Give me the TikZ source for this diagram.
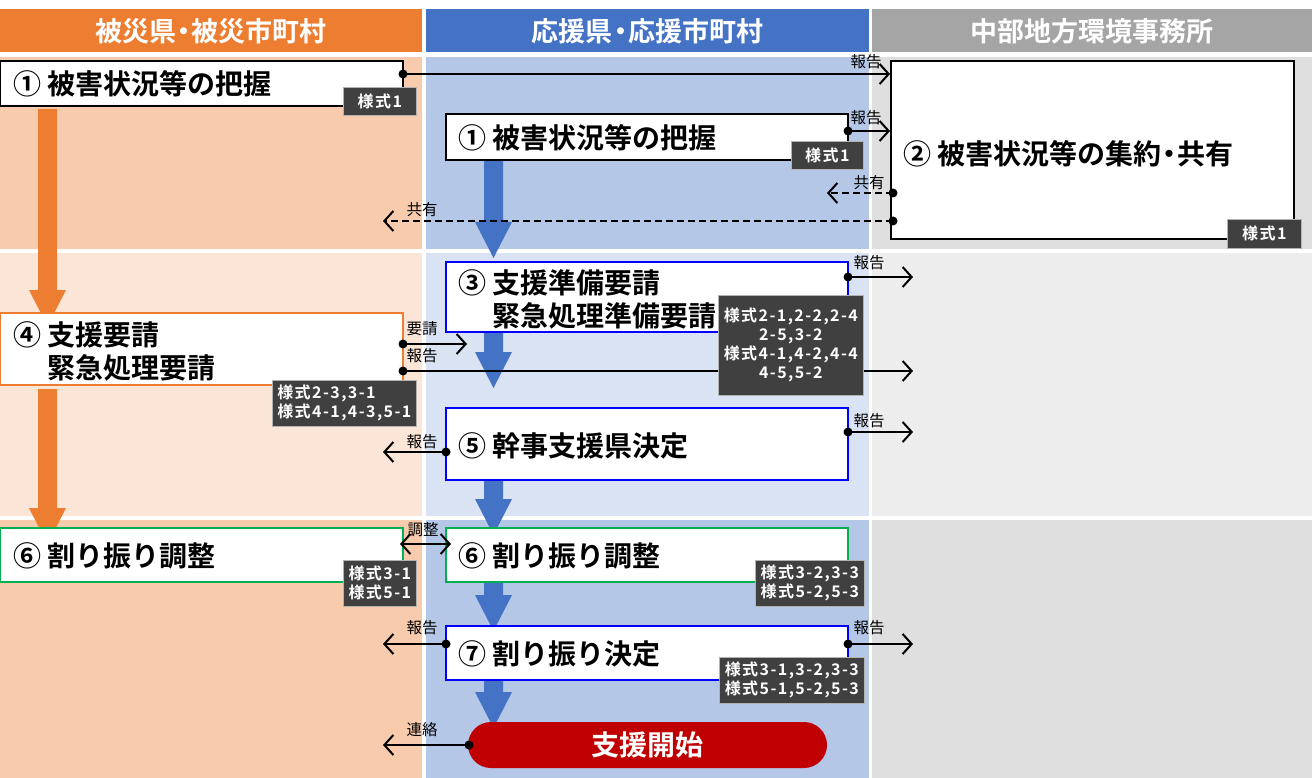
\documentclass[tikz,border=0pt]{standalone}
\usepackage{fontspec}
\newfontfamily\jp{Noto Sans CJK JP}[BoldFont={Noto Sans CJK JP Bold}]
\newfontfamily\jpt{Noto Sans CJK JP}[BoldFont={Noto Sans CJK JP Bold},LetterSpace=9]
\usetikzlibrary{arrows.meta}
\definecolor{hOr}{HTML}{ED7D31}
\definecolor{hBl}{HTML}{4472C4}
\definecolor{hGr}{HTML}{A5A5A5}
\definecolor{bgOr}{HTML}{F8CBAD}
\definecolor{bgOrL}{HTML}{FBE5D6}
\definecolor{bgBl}{HTML}{B4C7E7}
\definecolor{bgBlL}{HTML}{DAE3F3}
\definecolor{bgGr}{HTML}{DFDFDF}
\definecolor{bgGrL}{HTML}{EDEDED}
\definecolor{tagc}{HTML}{404040}
\definecolor{grn}{HTML}{00B050}
\definecolor{blu}{HTML}{0000FF}
\definecolor{redc}{HTML}{C00000}
\newcommand\blkarr[5]{\fill[#5] (#1-9.5,#2) -- (#1+9.5,#2) -- (#1+9.5,#3) -- (#1+18.5,#3) -- (#1,#4) -- (#1-18.5,#3) -- (#1-9.5,#3) -- cycle;}
\newcommand\nd{\kern-0.22em・\kern-0.22em}
\tikzset{
  box/.style={draw=black, line width=1.8pt, fill=white, anchor=north west, inner sep=0, outer sep=0},
  ttl/.style={font=\jp\bfseries\fontsize{28}{33}\selectfont, anchor=west, inner sep=0, align=left},
  hdr/.style={font=\jp\bfseries\fontsize{27}{30}\selectfont, text=white, inner sep=0, minimum height=43pt},
  tagbox/.style={fill=tagc, draw=gray!60, line width=0.6pt, text=white, font=\jpt\bfseries\fontsize{16}{19}\selectfont, anchor=north west, inner sep=0, align=center},
  lbl/.style={font=\jp\fontsize{15.5}{17}\selectfont, inner sep=0},
  conn/.style={line width=2pt, -{Straight Barb[length=9pt,width=20pt]}},
  dconn/.style={conn, dash pattern=on 7pt off 4pt},
  bconn/.style={line width=2pt, {Straight Barb[length=9pt,width=20pt]}-{Straight Barb[length=9pt,width=20pt]}},
}
\begin{document}
\begin{tikzpicture}[x=1pt,y=-1pt]
\useasboundingbox (0,0) rectangle (1312,778);
% backgrounds
\fill[bgOr] (0,57) rectangle (422,249);
\fill[bgBl] (426,57) rectangle (869,249);
\fill[bgGr] (872,57) rectangle (1312,249);
\fill[bgOrL] (0,253) rectangle (422,516);
\fill[bgBlL] (426,253) rectangle (869,516);
\fill[bgGrL] (872,253) rectangle (1312,516);
\fill[bgOr] (0,520) rectangle (422,778);
\fill[bgBl] (426,520) rectangle (869,778);
\fill[bgGr] (872,520) rectangle (1312,778);
% headers
\node[hdr, fill=hOr, minimum width=422pt] (h1) at (211,31) {被災県\nd 被災市町村};
\node[hdr, fill=hBl, minimum width=443pt] (h2) at (647.5,31) {応援県\nd 応援市町村};
\node[hdr, fill=hGr, minimum width=440pt] (h3) at (1092,31) {中部地方環境事務所};
% block arrows
\blkarr{47.5}{109}{290}{326}{hOr}
\blkarr{47.5}{389}{508}{544}{hOr}
\blkarr{493.5}{160}{222}{258}{hBl}
\blkarr{493.5}{333}{352}{388}{hBl}
\blkarr{493.5}{480}{499}{535}{hBl}
\blkarr{493.5}{582}{595}{631}{hBl}
\blkarr{493.5}{680}{692}{728}{hBl}
% boxes
\node[box, minimum width=403pt, minimum height=45pt] (b1) at (0,61) {};
\node[box, minimum width=402pt, minimum height=46pt] (m1) at (446,114) {};
\node[box, minimum width=403pt, minimum height=178pt] (bR) at (891,61) {};
\node[box, draw=blu, minimum width=402pt, minimum height=70pt] (b3) at (446,262) {};
\node[box, draw=hOr, minimum width=403pt, minimum height=72pt] (b4) at (0,313) {};
\node[box, draw=blu, minimum width=402pt, minimum height=72pt] (b5) at (446,408) {};
\node[box, draw=grn, minimum width=403pt, minimum height=54pt] (l6) at (0,528) {};
\node[box, draw=grn, minimum width=402pt, minimum height=54pt] (m6) at (446,528) {};
\node[box, draw=blu, minimum width=402pt, minimum height=54pt] (b7) at (446,626) {};
\node[fill=redc, rounded corners=23pt, minimum width=359pt, minimum height=46pt, anchor=north west, inner sep=0, outer sep=0, text=white, font=\jp\bfseries\fontsize{28}{30}\selectfont] (go) at (468,722) {支援開始};
% titles
\node[ttl] (t1) at (13,84) {① 被害状況等の把握};
\node[ttl] (tm1) at (458,138) {① 被害状況等の把握};
\node[ttl] (tR) at (903,154) {② 被害状況等の集約\nd 共有};
\node[ttl] (t3) at (458,299) {③ 支援準備要請\\\phantom{③ }緊急処理準備要請};
\node[ttl] (t4) at (13,351) {④ 支援要請\\\phantom{④ }緊急処理要請};
\node[ttl] (t5) at (458,446) {⑤ 幹事支援県決定};
\node[ttl] (tl6) at (13,556) {⑥ 割り振り調整};
\node[ttl] (tm6) at (458,556) {⑥ 割り振り調整};
\node[ttl] (t7) at (458,654) {⑦ 割り振り決定};
% connector points
\coordinate (p1) at (403,74);   \coordinate (e1) at (890,74);
\coordinate (p2) at (848,131);  \coordinate (e2) at (890,131);
\coordinate (p3) at (893,193);  \coordinate (e3) at (827,193);
\coordinate (p4) at (893,221);  \coordinate (e4) at (383,221);
\coordinate (p5) at (848,277);  \coordinate (e5) at (913,277);
\coordinate (p6) at (403,344);  \coordinate (e6) at (467,344);
\coordinate (p7) at (403,371);  \coordinate (e7) at (913,371);
\coordinate (p8) at (848,432);  \coordinate (e8) at (913,432);
\coordinate (p9) at (446,452);  \coordinate (e9) at (383,452);
\coordinate (pa) at (400,544);  \coordinate (ea) at (451,544);
\coordinate (pb) at (848,644);  \coordinate (eb) at (913,644);
\coordinate (pc) at (446,644);  \coordinate (ec) at (383,644);
\coordinate (pd) at (469,745);  \coordinate (ed) at (383,745);
% connectors
\draw[conn] (p1) -- (e1);
\draw[conn] (p2) -- (e2);
\draw[dconn] (p3) -- (e3);
\draw[dconn] (p4) -- (e4);
\draw[conn] (p5) -- (e5);
\draw[conn] (p6) -- (e6);
\draw[conn] (p7) -- (e7);
\draw[conn] (p8) -- (e8);
\draw[conn] (p9) -- (e9);
\draw[bconn] (pa) -- (ea);
\draw[conn] (pb) -- (eb);
\draw[conn] (pc) -- (ec);
\draw[conn] (pd) -- (ed);
\foreach \p in {p1,p2,p3,p4,p5,p6,p7,p8,p9,pb,pc,pd} \fill (\p) circle[radius=4.5pt];
% labels
\node[lbl] (l1) at (866,62) {報告};
\node[lbl] (l2) at (866,118) {報告};
\node[lbl] (l3) at (869,183) {共有};
\node[lbl] (l4) at (422,210) {共有};
\node[lbl] (l5) at (869,263) {報告};
\node[lbl] (l6l) at (422,329) {要請};
\node[lbl] (l7) at (422,356) {報告};
\node[lbl] (l8) at (869,421) {報告};
\node[lbl] (l9) at (422,442) {報告};
\node[lbl] (la) at (423,530) {調整};
\node[lbl] (lb) at (869,628) {報告};
\node[lbl] (lc) at (422,628) {報告};
\node[lbl] (ld) at (422,730) {連絡};
% tags
\node[tagbox, minimum width=73pt, minimum height=28pt] (g1) at (343,87) {様式1};
\node[tagbox, minimum width=72pt, minimum height=28pt] (g2) at (791,141) {様式1};
\node[tagbox, minimum width=74pt, minimum height=29pt] (gR) at (1227,219) {様式1};
\node[tagbox, minimum width=145pt, minimum height=100pt] (g3) at (718,295) {様式2-1,2-2,2-4\\2-5,3-2\\様式4-1,4-2,4-4\\4-5,5-2};
\node[tagbox, minimum width=144pt, minimum height=46pt, align=left] (g4) at (272,380) {様式2-3,3-1\\様式4-1,4-3,5-1};
\node[tagbox, minimum width=73pt, minimum height=46pt] (g6l) at (343,560) {様式3-1\\様式5-1};
\node[tagbox, minimum width=109pt, minimum height=46pt] (g6m) at (755,560) {様式3-2,3-3\\様式5-2,5-3};
\node[tagbox, minimum width=145pt, minimum height=46pt] (g7) at (719,657) {様式3-1,3-2,3-3\\様式5-1,5-2,5-3};
\end{tikzpicture}
\end{document}
